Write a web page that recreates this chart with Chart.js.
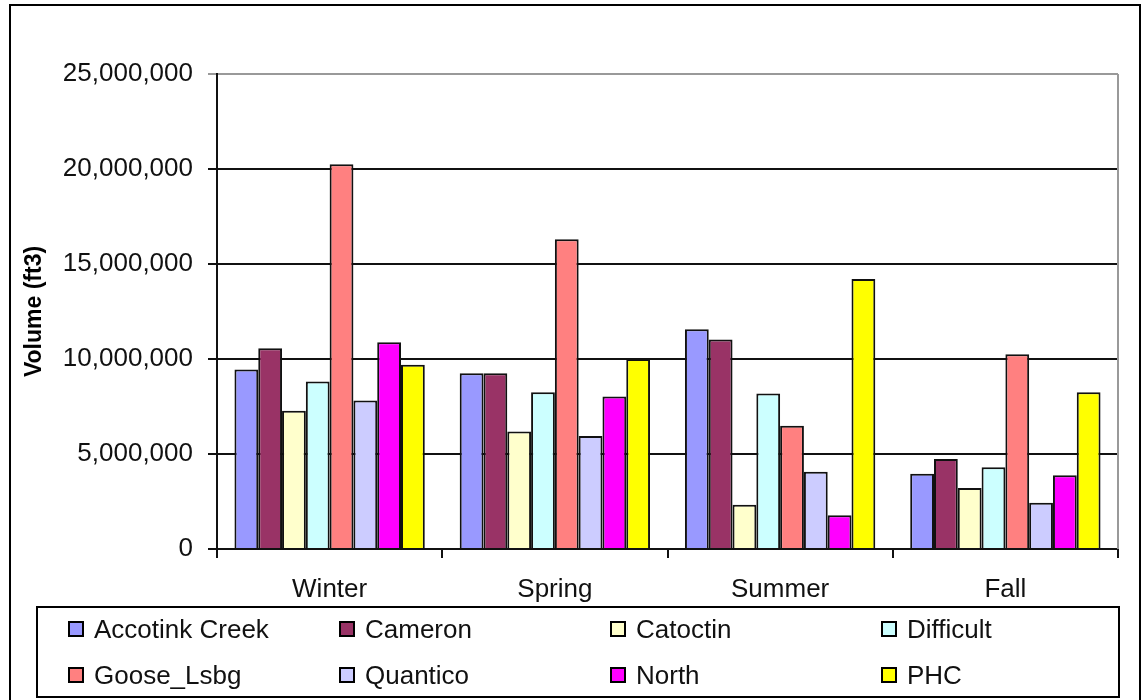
<!DOCTYPE html>
<html>
<head>
<meta charset="utf-8">
<script src="https://cdn.jsdelivr.net/npm/chart.js@4/dist/chart.umd.min.js"></script>
<style>
  html, body { margin: 0; padding: 0; background: #fff; }
  body { width: 1146px; height: 700px; position: relative; overflow: hidden; font-family: "Liberation Sans", Arial, sans-serif; }
  #frame { position: absolute; left: 9px; top: 4px; width: 1128px; height: 720px; border: 2px solid #000; }
  #chart1 { position: absolute; left: 0; top: 0; }
  #legend { position: absolute; left: 36px; top: 606px; width: 1080px; height: 88px; border: 2px solid #000; }
  .item { position: absolute; height: 30px; display: flex; align-items: center; font-size: 26px; color: #111; white-space: nowrap; }
  .sw { width: 16px; height: 16px; box-sizing: border-box; border: 2px solid #000; margin-right: 10px; }
</style>
</head>
<body>
<div id="frame"></div>
<canvas id="chart1" width="1146" height="700"></canvas>
<div id="legend"></div>
<script>
// seasons along the x axis
var seasons = ["Winter", "Spring", "Summer", "Fall"];

// volume (ft3) per site, one value per season
var accotink  = [9450000, 9250000, 11560000, 3960000];
var cameron   = [10560000, 9250000, 11020000, 4740000];
var catoctin  = [7280000, 6190000, 2330000, 3210000];
var difficult = [8810000, 8250000, 8190000, 4300000];
var goose     = [20250000, 16300000, 6490000, 10250000];
var quantico  = [7810000, 5950000, 4070000, 2440000];
var north     = [10880000, 8020000, 1770000, 3880000];
var phc       = [9700000, 10000000, 14210000, 8250000];

var siteNames = ["Accotink Creek", "Cameron", "Catoctin", "Difficult", "Goose_Lsbg", "Quantico", "North", "PHC"];
var siteValues = [accotink, cameron, catoctin, difficult, goose, quantico, north, phc];
var siteColors = ["#9999FF", "#993366", "#FFFFCC", "#CCFFFF", "#FF8080", "#CCCCFF", "#FF00FF", "#FFFF00"];

var yTicks = [0, 5000000, 10000000, 15000000, 20000000, 25000000];

var datasets = siteNames.map(function (name, i) {
  return {
    label: name,
    data: siteValues[i],
    backgroundColor: siteColors[i],
    borderColor: "#111",
    borderWidth: 2,
    barPercentage: 1,
    categoryPercentage: 0.845
  };
});

// gray right edge of the plot area
var plotFrame = {
  id: "plotFrame",
  beforeDatasetsDraw: function (chart) {
    var a = chart.chartArea, c = chart.ctx;
    c.save();
    c.strokeStyle = "#999";
    c.lineWidth = 2;
    c.beginPath();
    c.moveTo(a.right, a.top);
    c.lineTo(a.right, a.bottom);
    c.stroke();
    c.restore();
  }
};

new Chart(document.getElementById("chart1"), {
  type: "bar",
  data: { labels: seasons, datasets: datasets },
  options: {
    responsive: false,
    animation: false,
    layout: { padding: { top: 74, right: 28, bottom: 0, left: 0 } },
    plugins: { legend: { display: false }, tooltip: { enabled: false } },
    scales: {
      x: {
        grid: { drawOnChartArea: false, offset: true, tickLength: 9, color: "#111", lineWidth: 2 },
        border: { color: "#111", width: 2 },
        ticks: { color: "#111", padding: 16, font: { family: "Liberation Sans", size: 26 } },
        afterFit: function (s) { s.height = 151; }
      },
      y: {
        min: 0,
        max: 25000000,
        afterBuildTicks: function (s) { s.ticks = yTicks.map(function (v) { return { value: v }; }); },
        grid: {
          tickLength: 9,
          lineWidth: 2,
          color: function (ctx) { return ctx.tick && ctx.tick.value === 25000000 ? "#999" : "#111"; }
        },
        border: { color: "#111", width: 2 },
        ticks: {
          color: "#111",
          padding: 15,
          font: { family: "Liberation Sans", size: 26 },
          callback: function (v) { return Number(v).toLocaleString("en-US"); }
        },
        title: {
          display: true,
          text: "Volume (ft3)",
          color: "#000",
          padding: { top: 21, bottom: 0 },
          font: { family: "Liberation Sans", size: 23, weight: "bold" }
        },
        afterFit: function (s) { s.width = 217; }
      }
    }
  },
  plugins: [plotFrame]
});

// legend box, 4 columns x 2 rows
var legend = document.getElementById("legend");
siteNames.forEach(function (name, i) {
  var col = i % 4, row = Math.floor(i / 4);
  var item = document.createElement("div");
  item.className = "item";
  item.style.left = (30 + col * 271) + "px";
  item.style.top = (6 + row * 46) + "px";
  var sw = document.createElement("span");
  sw.className = "sw";
  sw.style.background = siteColors[i];
  item.appendChild(sw);
  item.appendChild(document.createTextNode(name));
  legend.appendChild(item);
});
</script>
</body>
</html>
